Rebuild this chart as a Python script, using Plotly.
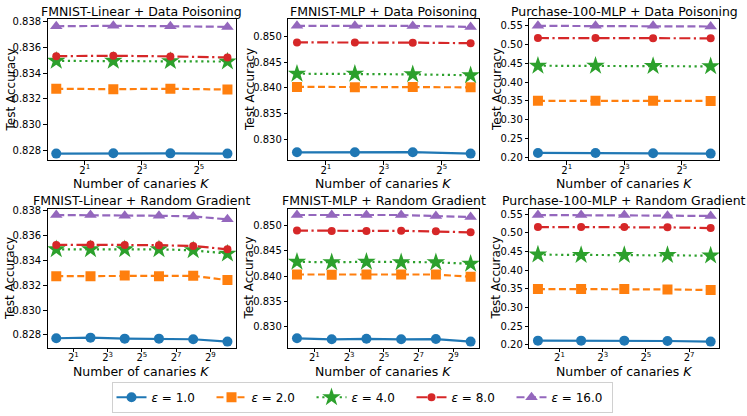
import math
import plotly.graph_objects as go

# ---------------- data ----------------
eps_labels = ["1.0", "2.0", "4.0", "8.0", "16.0"]

K_dp = [1, 4, 16, 64]
K_fmnist_rg = [1, 4, 16, 64, 256, 1024]
K_purchase_rg = [1, 4, 16, 64, 256]

# rows: eps = 1, 2, 4, 8, 16
fmnist_linear_dp = [
    [0.82773, 0.82776, 0.82775, 0.82773],
    [0.83278, 0.83275, 0.83278, 0.83272],
    [0.83495, 0.83495, 0.83493, 0.83490],
    [0.83532, 0.83535, 0.83530, 0.83522],
    [0.83765, 0.83768, 0.83765, 0.83760],
]
fmnist_mlp_dp = [
    [0.82755, 0.82755, 0.82758, 0.82730],
    [0.84020, 0.84015, 0.84020, 0.84012],
    [0.84275, 0.84275, 0.84262, 0.84245],
    [0.84880, 0.84880, 0.84875, 0.84865],
    [0.85200, 0.85200, 0.85198, 0.85180],
]
purchase_dp = [
    [0.2115, 0.2115, 0.2106, 0.2097],
    [0.3502, 0.3502, 0.3502, 0.3500],
    [0.4438, 0.4438, 0.4429, 0.4421],
    [0.5176, 0.5176, 0.5168, 0.5168],
    [0.5500, 0.5500, 0.5500, 0.5482],
]
fmnist_linear_rg = [
    [0.82773, 0.82778, 0.82770, 0.82770, 0.82765, 0.82746],
    [0.83273, 0.83273, 0.83278, 0.83273, 0.83276, 0.83241],
    [0.83489, 0.83489, 0.83489, 0.83489, 0.83481, 0.83454],
    [0.83524, 0.83527, 0.83524, 0.83522, 0.83516, 0.83489],
    [0.83765, 0.83765, 0.83759, 0.83759, 0.83754, 0.83730],
]
fmnist_mlp_rg = [
    [0.82775, 0.82755, 0.82765, 0.82755, 0.82760, 0.82710],
    [0.84030, 0.84025, 0.84030, 0.84030, 0.84030, 0.83985],
    [0.84280, 0.84270, 0.84280, 0.84270, 0.84270, 0.84240],
    [0.84895, 0.84888, 0.84888, 0.84890, 0.84880, 0.84860],
    [0.85200, 0.85200, 0.85200, 0.85200, 0.85180, 0.85160],
]
purchase_rg = [
    [0.2115, 0.2115, 0.2115, 0.2106, 0.2089],
    [0.3498, 0.3498, 0.3498, 0.3489, 0.3471],
    [0.4420, 0.4411, 0.4411, 0.4411, 0.4394],
    [0.5160, 0.5160, 0.5160, 0.5151, 0.5133],
    [0.5482, 0.5482, 0.5482, 0.5465, 0.5456],
]

titles = [
    "FMNIST-Linear + Data Poisoning",
    "FMNIST-MLP + Data Poisoning",
    "Purchase-100-MLP + Data Poisoning",
    "FMNIST-Linear + Random Gradient",
    "FMNIST-MLP + Random Gradient",
    "Purchase-100-MLP + Random Gradient",
]
x_tick_exps = [[1, 3, 5], [1, 3, 5], [1, 3, 5], [1, 3, 5, 7, 9], [1, 3, 5, 7, 9], [1, 3, 5, 7]]
y_dticks = [0.002, 0.005, 0.05, 0.002, 0.005, 0.05]
y_formats = [".3f", ".3f", ".2f", ".3f", ".3f", ".2f"]

panels = [
    (K_dp, fmnist_linear_dp),
    (K_dp, fmnist_mlp_dp),
    (K_dp, purchase_dp),
    (K_fmnist_rg, fmnist_linear_rg),
    (K_fmnist_rg, fmnist_mlp_rg),
    (K_purchase_rg, purchase_rg),
]

# ---------------- styles ----------------
colors = ["#1f77b4", "#ff7f0e", "#2ca02c", "#d62728", "#9467bd"]
symbols = ["circle", "square", "star", "circle", "triangle-up"]
msizes = [10, 10, 14, 8, 11]
dashes = ["solid", "7px,3.5px", "2.2px,3.6px", "11px,3.5px,2.2px,3.5px", "8px,3.5px"]

W, H = 747, 416
col_px = [(47.7, 236.0), (288.3, 479.3), (529.3, 719.3)]
row_px = [(16.7, 159.3), (208.7, 350.0)]
ylab_off = [37.0, 39.0, 33.0]
title_y = [9.0, 200.0]
xlab_y = [183.5, 373.5]

FONT = "DejaVu Sans"
fig = go.Figure()
annotations = []

for i, (K, series) in enumerate(panels):
    r, c = divmod(i, 3)
    ax = "" if i == 0 else str(i + 1)
    for j, ys in enumerate(series):
        fig.add_trace(go.Scatter(
            x=K, y=ys, mode="lines+markers",
            name="<i>ε</i> = " + eps_labels[j],
            legendgroup=eps_labels[j], showlegend=(i == 0),
            line=dict(color=colors[j], width=2.2, dash=dashes[j]),
            marker=dict(symbol=symbols[j], size=msizes[j], color=colors[j],
                        line=dict(width=0)),
            xaxis="x" + ax, yaxis="y" + ax,
        ))
    x0, x1 = col_px[c]
    y0, y1 = row_px[r]
    lo2 = math.log2(min(K)); hi2 = math.log2(max(K))
    m = 0.05 * (hi2 - lo2)
    xr = [math.log10(2 ** (lo2 - m)), math.log10(2 ** (hi2 + m))]
    allv = [v for s in series for v in s]
    ymin, ymax = min(allv), max(allv)
    ym = 0.05 * (ymax - ymin)
    common = dict(showline=True, linecolor="black", linewidth=1, mirror=True,
                  ticks="outside", ticklen=3.5, tickwidth=0.8, tickcolor="black",
                  showgrid=False, zeroline=False,
                  tickfont=dict(family=FONT, size=10, color="black"))
    fig.layout["xaxis" + ax] = dict(
        type="log", range=xr, domain=[x0 / W, x1 / W], anchor="y" + ax,
        tickvals=[2 ** e for e in x_tick_exps[i]],
        ticktext=["2<sup>%d</sup>" % e for e in x_tick_exps[i]],
        ticklabelstandoff=-3,
        **common)
    fig.layout["yaxis" + ax] = dict(
        range=[ymin - ym, ymax + ym], domain=[1 - y1 / H, 1 - y0 / H], anchor="x" + ax,
        dtick=y_dticks[i], tickformat=y_formats[i], **common)
    xc = (x0 + x1) / 2 / W
    annotations.append(dict(text=titles[i], x=xc, y=1 - title_y[r] / H, xref="paper", yref="paper",
                            showarrow=False, xanchor="center", yanchor="middle",
                            font=dict(family=FONT, size=12.5, color="black")))
    annotations.append(dict(text="Number of canaries <i>K</i>", x=xc, y=1 - xlab_y[r] / H,
                            xref="paper", yref="paper", showarrow=False,
                            xanchor="center", yanchor="middle",
                            font=dict(family=FONT, size=12.5, color="black")))
    annotations.append(dict(text="Test Accuracy", x=(x0 - ylab_off[c]) / W, y=1 - (y0 + y1) / 2 / H,
                            xref="paper", yref="paper", showarrow=False, textangle=-90,
                            xanchor="center", yanchor="middle",
                            font=dict(family=FONT, size=12, color="black")))

fig.update_layout(
    width=W, height=H, margin=dict(l=0, r=0, t=0, b=0),
    paper_bgcolor="white", plot_bgcolor="white",
    font=dict(family=FONT, color="black"),
    annotations=annotations,
    legend=dict(orientation="h", x=362 / W, y=1 - 400 / H, xanchor="center", yanchor="middle",
                bordercolor="#d0d0d0", borderwidth=1, bgcolor="white",
                font=dict(family=FONT, size=12, color="black"),
                itemwidth=30, tracegroupgap=0, entrywidth=55),
)

fig.write_html("out.html", config={"displayModeBar": False},
               post_script="document.body.style.margin='0px';")
